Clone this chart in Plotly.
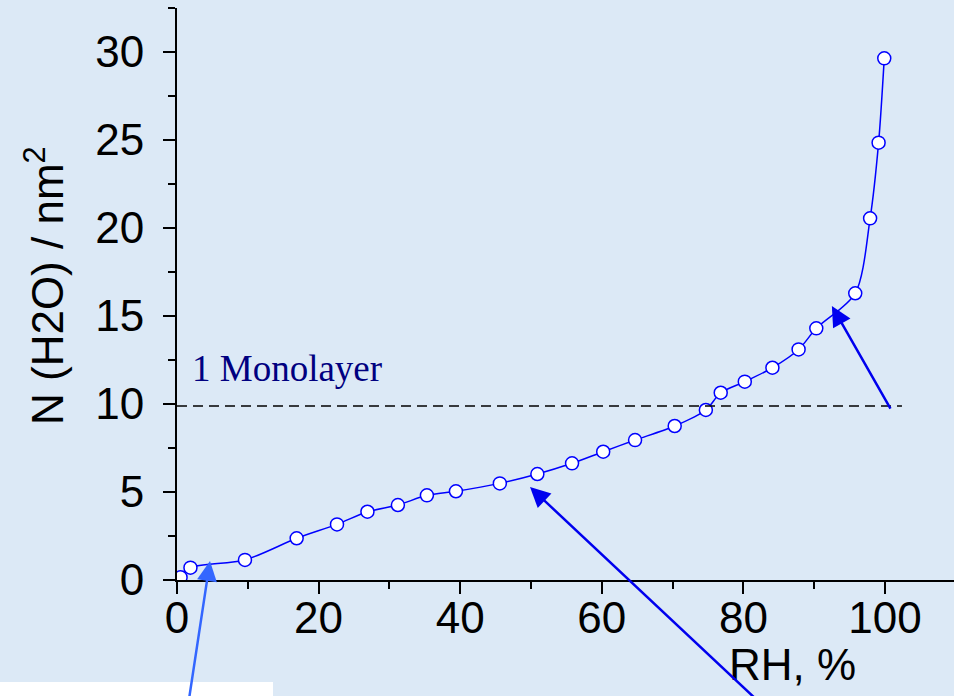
import plotly.graph_objects as go

# Data
rh = [0.5, 1.9, 9.6, 16.9, 22.6, 26.9, 31.2, 35.3, 39.4, 45.6, 50.9, 55.8,
      60.2, 64.7, 70.3, 74.7, 76.8, 80.2, 84.1, 87.8, 90.3, 95.8, 97.9, 99.1, 99.9]
n_h2o = [0.15, 0.70, 1.14, 2.37, 3.16, 3.88, 4.26, 4.81, 5.04, 5.49, 6.02, 6.63,
         7.29, 7.95, 8.75, 9.66, 10.64, 11.27, 12.06, 13.10, 14.30, 16.29, 20.55, 24.85, 29.64]
monolayer_level = 9.88
monolayer_end = 102.4
x_ticks = [0, 20, 40, 60, 80, 100]
y_ticks = [0, 5, 10, 15, 20, 25, 30]

W, H = 954, 696
L, R, T, B = 177, 0, 8, 116
pw, ph = W - L - R, H - T - B
XMAX, YMAX = 109.75, 32.5
BG = "#dce9f6"

fig = go.Figure()
fig.add_trace(go.Scatter(
    x=rh, y=n_h2o, mode="lines+markers",
    line=dict(color="#0000ff", width=1.5, shape="spline", smoothing=0.8),
    marker=dict(size=13, color="white", line=dict(color="#0000ff", width=1.5)),
    showlegend=False,
))

# monolayer dashed line
fig.add_shape(type="line", xref="x", yref="y", x0=0, x1=monolayer_end,
              y0=monolayer_level, y1=monolayer_level,
              line=dict(color="black", width=1.5, dash="10px,6px"))

def px2paper_x(px):
    return (px - L) / pw

def px2paper_y(py):
    return (H - B - py) / ph

# white box at the bottom left (cut-off text box)
fig.add_shape(type="rect", xref="paper", yref="paper",
              x0=px2paper_x(0), x1=px2paper_x(273), y0=px2paper_y(700), y1=px2paper_y(682),
              fillcolor="white", line=dict(width=0), layer="above")

annos = []
annos.append(dict(x=1.84, y=12.0, xref="x", yref="y", text="1 Monolayer",
                  showarrow=False, xanchor="left", yanchor="middle",
                  font=dict(family="Liberation Serif", size=37, color="#000080")))
annos.append(dict(x=px2paper_x(44), y=px2paper_y(286), xref="paper", yref="paper",
                  text="N (H2O) / nm<sup>2</sup>", textangle=-90, showarrow=False,
                  xanchor="center", yanchor="middle",
                  font=dict(family="Liberation Sans", size=44, color="black")))
annos.append(dict(x=px2paper_x(792), y=px2paper_y(664), xref="paper", yref="paper",
                  text="RH, %", showarrow=False, xanchor="center", yanchor="middle",
                  font=dict(family="Liberation Sans", size=44, color="black")))

# arrows: tip and tail in data coordinates
arrows = [
    (4.66, 1.08, 1.27, -7.9, "#3366ff"),
    (49.86, 5.28, 84.46, -7.78, "#0000ee"),
    (92.5, 15.57, 100.9, 9.65, "#0000ee"),
]
for tx, ty, sx, sy, col in arrows:
    annos.append(dict(x=tx, y=ty, xref="x", yref="y", ax=sx, ay=sy,
                      axref="x", ayref="y", text="", showarrow=True,
                      arrowhead=2, arrowsize=1.6, arrowwidth=2.5, arrowcolor=col,
                      standoff=0))

fig.update_layout(
    width=W, height=H,
    margin=dict(l=L, r=R, t=T, b=B, pad=0),
    paper_bgcolor=BG, plot_bgcolor=BG,
    annotations=annos,
    xaxis=dict(range=[0, XMAX], showgrid=False, zeroline=False,
               showline=True, linecolor="black", linewidth=2,
               ticks="outside", ticklen=12, tickwidth=2, tickcolor="black",
               tickvals=x_ticks, ticktext=[str(v) for v in x_ticks],
               ticklabelstandoff=-14,
               minor=dict(dtick=10, tick0=10, ticks="outside", ticklen=7, tickwidth=2, tickcolor="black", showgrid=False),
               tickfont=dict(family="Liberation Sans", size=44, color="black")),
    yaxis=dict(range=[0, YMAX], showgrid=False, zeroline=False,
               showline=True, linecolor="black", linewidth=2,
               ticks="outside", ticklen=12, tickwidth=2, tickcolor="black",
               tickvals=y_ticks, ticktext=[str(v) for v in y_ticks],
               ticklabelstandoff=10,
               minor=dict(dtick=2.5, tick0=2.5, ticks="outside", ticklen=7, tickwidth=2, tickcolor="black", showgrid=False),
               tickfont=dict(family="Liberation Sans", size=44, color="black")),
)

fig.write_html("out.html")
